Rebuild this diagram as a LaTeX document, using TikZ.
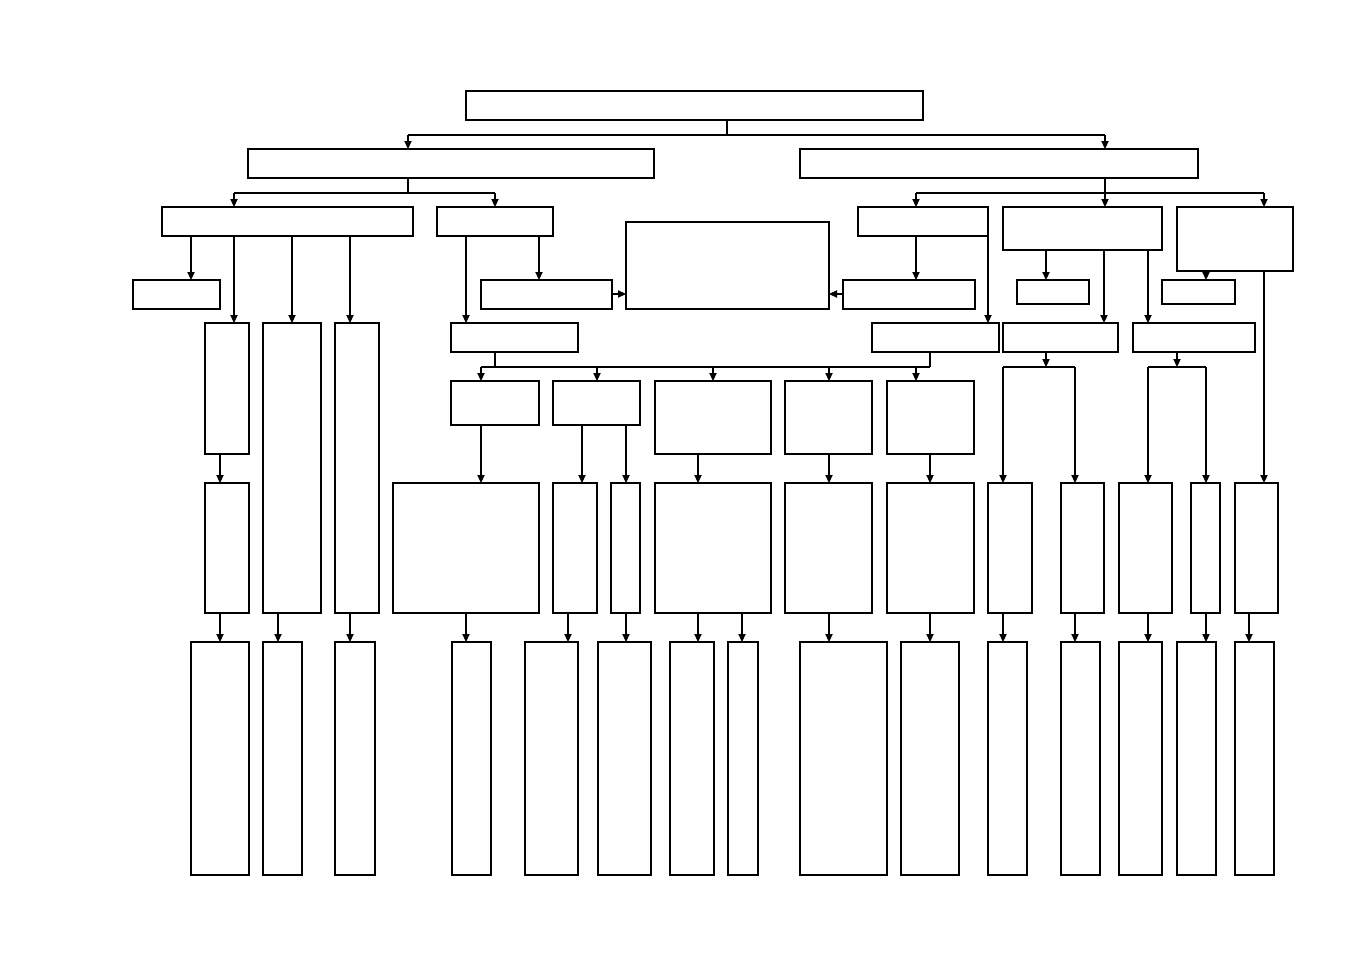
\documentclass[tikz,border=0pt]{standalone}
\usetikzlibrary{arrows.meta}
\begin{document}
\begin{tikzpicture}[x=0.5pt,y=-0.5pt,
  boxst/.style={draw, line width=0.7pt, inner sep=0pt, outer sep=0pt},
  ln/.style={line width=0.7pt},
  arr/.style={line width=0.7pt, -{Triangle[length=4pt,width=3.6pt]}}]
\newcommand\bx[5]{\node[boxst, minimum width={(#4-#2)*0.5pt}, minimum height={(#5-#3)*0.5pt}] (#1) at ({(#2+#4)/2},{(#3+#5)/2}) {};}
\newcommand\va[3]{\draw[arr] (#1,0 |- #2.south) -- (#1,0 |- #3.north);}
\fill[white] (0,0) rectangle (1357,960);
\useasboundingbox (0,0) rectangle (1357,960);
% level 0-2
\bx{T}{466}{91}{923}{120}
\bx{L1}{248}{149}{654}{178}
\bx{R1}{800}{149}{1198}{178}
\bx{A}{162}{207}{413}{236}
\bx{B}{437}{207}{553}{236}
\bx{C}{626}{222}{829}{309}
\bx{D}{858}{207}{988}{236}
\bx{E}{1003}{207}{1162}{250}
\bx{F}{1177}{207}{1293}{271}
% level 3
\bx{G}{133}{280}{220}{309}
\bx{I}{481}{280}{612}{309}
\bx{K}{843}{280}{975}{309}
\bx{N}{1017}{280}{1089}{304}
\bx{Q}{1162}{280}{1235}{304}
\bx{H1}{205}{323}{249}{454}
\bx{H2}{263}{323}{321}{613}
\bx{H3}{335}{323}{379}{613}
\bx{J}{451}{323}{578}{352}
\bx{L}{872}{323}{999}{352}
\bx{O}{1003}{323}{1118}{352}
\bx{P}{1133}{323}{1255}{352}
% level 4
\bx{M1}{451}{381}{539}{425}
\bx{M2}{553}{381}{640}{425}
\bx{M3}{655}{381}{771}{454}
\bx{M4}{785}{381}{872}{454}
\bx{M5}{887}{381}{974}{454}
% level 5
\bx{R5a}{205}{483}{249}{613}
\bx{S}{393}{483}{539}{613}
\bx{Tb}{553}{483}{597}{613}
\bx{U}{611}{483}{640}{613}
\bx{V}{655}{483}{771}{613}
\bx{W}{785}{483}{872}{613}
\bx{X}{887}{483}{974}{613}
\bx{Y1}{988}{483}{1032}{613}
\bx{Y2}{1061}{483}{1104}{613}
\bx{Y3}{1119}{483}{1172}{613}
\bx{Y4}{1191}{483}{1220}{613}
\bx{Y5}{1235}{483}{1278}{613}
% level 6
\bx{Z1}{191}{642}{249}{875}
\bx{Z2}{263}{642}{302}{875}
\bx{Z3}{335}{642}{375}{875}
\bx{Z4}{452}{642}{491}{875}
\bx{Z5}{525}{642}{578}{875}
\bx{Z6}{598}{642}{651}{875}
\bx{Z7}{670}{642}{714}{875}
\bx{Z8}{728}{642}{758}{875}
\bx{Z9}{800}{642}{887}{875}
\bx{Z10}{901}{642}{959}{875}
\bx{Z11}{988}{642}{1027}{875}
\bx{Z12}{1061}{642}{1100}{875}
\bx{Z13}{1119}{642}{1162}{875}
\bx{Z14}{1177}{642}{1216}{875}
\bx{Z15}{1235}{642}{1274}{875}
% connectors level 0 -> 1
\coordinate (j0) at (727,135);
\draw[ln] (727,0 |- T.south) -- (j0);
\draw[ln] (408,135) -- (1105,135);
\draw[arr] (408,135) -- (408,0 |- L1.north);
\draw[arr] (1105,135) -- (1105,0 |- R1.north);
% level 1 -> 2
\draw[ln] (408,0 |- L1.south) -- (408,193);
\draw[ln] (234,193) -- (495,193);
\draw[arr] (234,193) -- (234,0 |- A.north);
\draw[arr] (495,193) -- (495,0 |- B.north);
\draw[ln] (1105,0 |- R1.south) -- (1105,193);
\draw[ln] (916,193) -- (1264,193);
\draw[arr] (916,193) -- (916,0 |- D.north);
\draw[arr] (1105,193) -- (1105,0 |- E.north);
\draw[arr] (1264,193) -- (1264,0 |- F.north);
% level 2 -> 3
\va{191}{A}{G}
\va{234}{A}{H1}
\va{292}{A}{H2}
\va{350}{A}{H3}
\va{466}{B}{J}
\va{539}{B}{I}
\draw[arr] (I.east |- 0,294) -- (C.west |- 0,294);
\draw[arr] (K.west |- 0,294) -- (C.east |- 0,294);
\va{916}{D}{K}
\draw[arr] (D.north east) -- (988,0 |- L.north);
\va{1046}{E}{N}
\va{1104}{E}{O}
\va{1148}{E}{P}
\va{1206}{F}{Q}
\va{1264}{F}{Y5}
% J/L -> level 4
\draw[ln] (495,0 |- J.south) -- (495,367);
\draw[ln] (930,0 |- L.south) -- (930,367);
\draw[ln] (481,367) -- (930,367);
\draw[arr] (481,367) -- (481,0 |- M1.north);
\draw[arr] (597,367) -- (597,0 |- M2.north);
\draw[arr] (713,367) -- (713,0 |- M3.north);
\draw[arr] (829,367) -- (829,0 |- M4.north);
\draw[arr] (916,367) -- (916,0 |- M5.north);
% O, P -> level 5
\draw[arr] (1046,0 |- O.south) -- (1046,367);
\draw[ln] (1003,367) -- (1075,367);
\draw[arr] (1003,367) -- (1003,0 |- Y1.north);
\draw[arr] (1075,367) -- (1075,0 |- Y2.north);
\draw[arr] (1177,0 |- P.south) -- (1177,367);
\draw[ln] (1148,367) -- (1206,367);
\draw[arr] (1148,367) -- (1148,0 |- Y3.north);
\draw[arr] (1206,367) -- (1206,0 |- Y4.north);
% level 4 -> 5
\va{220}{H1}{R5a}
\va{481}{M1}{S}
\va{582}{M2}{Tb}
\va{626}{M2}{U}
\va{698}{M3}{V}
\va{829}{M4}{W}
\va{930}{M5}{X}
% level 5 -> 6
\va{220}{R5a}{Z1}
\va{278}{H2}{Z2}
\va{350}{H3}{Z3}
\va{466}{S}{Z4}
\va{568}{Tb}{Z5}
\va{626}{U}{Z6}
\va{698}{V}{Z7}
\va{742}{V}{Z8}
\va{829}{W}{Z9}
\va{930}{X}{Z10}
\va{1003}{Y1}{Z11}
\va{1075}{Y2}{Z12}
\va{1148}{Y3}{Z13}
\va{1206}{Y4}{Z14}
\va{1249}{Y5}{Z15}
\end{tikzpicture}
\end{document}
